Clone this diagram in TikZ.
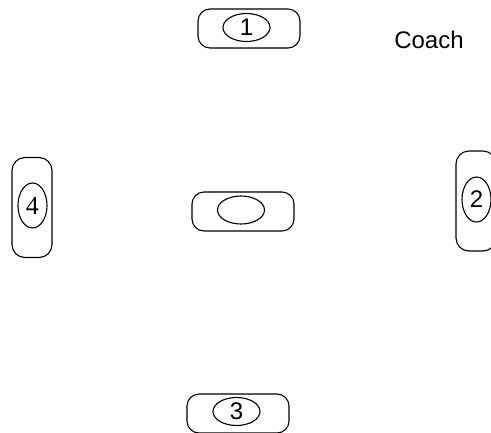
\documentclass[tikz,border=0pt]{standalone}
\usepackage{fontspec}
\setmainfont{Liberation Sans}
\newfontfamily\serifdig{Liberation Serif}
\usetikzlibrary{shapes.geometric}
\begin{document}
\begin{tikzpicture}[x=1pt,y=-1pt,
  outerh/.style={draw, line width=1.1pt, rounded corners=12pt, minimum width=102pt, minimum height=39pt, inner sep=0pt},
  outerv/.style={draw, line width=1.1pt, rounded corners=13pt, minimum width=40pt, minimum height=100pt, inner sep=0pt},
  ovalh/.style={draw, ellipse, line width=1.1pt, minimum width=47pt, minimum height=28pt, inner sep=0pt, font=\fontsize{24}{24}\selectfont},
  ovalv/.style={draw, ellipse, line width=1.1pt, minimum width=29pt, minimum height=45pt, inner sep=0pt, font=\fontsize{24}{24}\selectfont},
  lbl/.style={inner sep=0pt, font=\fontsize{24}{24}\selectfont}
]
\useasboundingbox (0,0) rectangle (491,432);
% top
\node[outerh] (pos1) at (249,28.5) {};
\node[ovalh] (oval1) at (246.5,27.5) {1};
% centre
\node[outerh] (posc) at (243,211.5) {};
\node[ovalh] (ovalc) at (241,210) {};
% bottom
\node[outerh] (pos3) at (238,413.5) {};
\node[ovalh] (oval3) at (236.5,411.5) {3};
% left
\node[outerv] (pos4) at (32,207.5) {};
\node[ovalv, font=\fontsize{26}{26}\selectfont\serifdig] (oval4) at (32.5,205.5) {4};
% right
\node[outerv] (pos2) at (476,201) {};
\node[ovalv] (oval2) at (476.5,199.5) {2};
% label
\node[lbl] (coach) at (429,40) {Coach};
\end{tikzpicture}
\end{document}
